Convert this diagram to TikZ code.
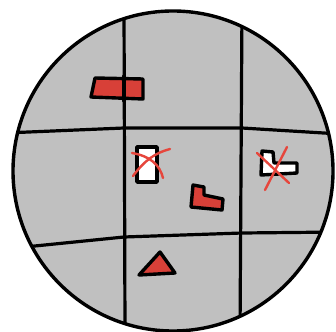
\documentclass[tikz,border=0pt]{standalone}
\definecolor{disc}{RGB}{192,192,192}
\definecolor{redfill}{RGB}{216,64,56}
\definecolor{crossred}{RGB}{230,70,60}
\tikzset{
  outline/.style={line width=3.4pt, line join=round, line cap=round},
  grid/.style={line width=3.2pt, line cap=round},
  piece/.style={outline, fill=redfill},
  gone/.style={outline, fill=white},
  cross/.style={line width=2.4pt, draw=crossred, line cap=round}
}
\begin{document}
\begin{tikzpicture}[x=1pt,y=-1pt]
\useasboundingbox (0,0) rectangle (336,331);
\coordinate (c) at (173,171);
\fill[disc] (c) circle[radius=160];
\begin{scope}
\clip (c) circle[radius=160];
\draw[grid] (124,5) -- (125,335);
\draw[grid] (242,5) -- (240,335);
\draw[grid] (5,133) -- (124,128) -- (242,128) -- (340,134);
\draw[grid] (5,249) -- (124,237) -- (242,233) -- (340,232);
\end{scope}
\draw[outline] (c) circle[radius=160];
% red bar
\draw[piece] (95,78) -- (143,79) -- (143,99) -- (91,97) -- cycle;
\draw[grid] (124,76) -- (124,101);
% white rect with cross
\draw[gone] (137,147) rectangle (157,182);
\draw[cross] (133,176) .. controls (145,160) and (155,153) .. (170,149);
\draw[cross] (132,153) .. controls (150,156) and (160,165) .. (163,178);
% red L
\draw[piece] (193,185) -- (204,187) -- (204,195) -- (223,199) -- (222,210) -- (191,207) -- cycle;
% white L with cross
\draw[gone] (262,151) -- (273,152) -- (274,163) -- (297,163) -- (297,173) -- (261,175) -- cycle;
\draw[cross] (257,153) -- (289,183);
\draw[cross] (287,147) -- (265,190);
% triangle
\draw[piece] (160,252) -- (175,273) -- (139,275) -- cycle;
\end{tikzpicture}
\end{document}
